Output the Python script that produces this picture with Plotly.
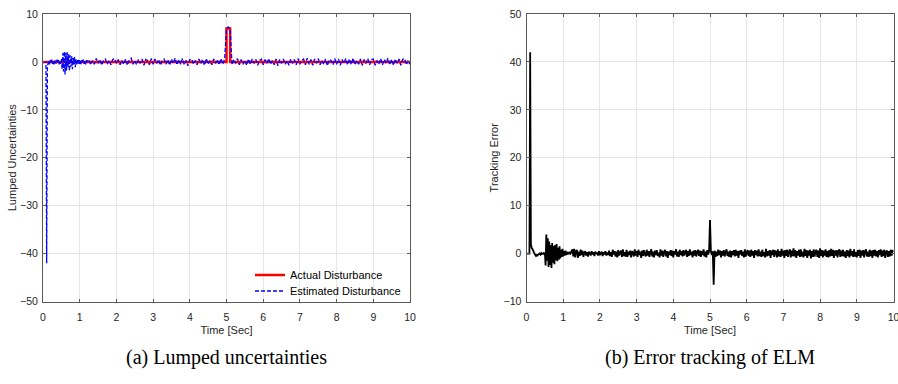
import numpy as np
import plotly.graph_objects as go

# ---------------- data ----------------
# time grids (sampling instants, seconds)
t_fine = np.round(np.arange(0, 1.2001, 0.02), 3)          # 0 .. 1.20
t_est = np.round(np.arange(1.25, 10.0001, 0.05), 3)       # 1.25 .. 10.00
t_err = np.round(np.arange(1.25, 10.0001, 0.025), 4)      # 1.25 .. 10.00

actual_time = [0, 5.0, 5.0, 5.1, 5.1, 10]
actual_dist = [0, 0, 7, 7, 0, 0]

est_fine = [0, 0, 0, 0, 0, -42, -0.8, -0.4, 0.3, -0.5,
            0.4, -0.3, 0.5, -0.4, 0.2, -0.5, 0.4, 0.0, -0.4, 0.5,
            -0.2, 0.4, -0.5, 0.2, -0.4, 0.6, -1.5, 1.8, -2.0, 2.2,
            -2.6, 1.9, -1.8, 2.0, -1.2, 1.6, -1.9, 1.4, -1.0, 1.2,
            -1.5, 0.8, -0.6, 1.0, -1.1, 0.6, -0.5, 0.4, -0.5, 0.6,
            -0.4, 0.2, -0.5, 0.4, -0.2, 0.5, -0.4, 0.2, -0.5, 0.4,
            0.0]
est_coarse = [0.5, -0.6, 0.3, -0.5, 0.7, -0.3, 0.5, -0.7, 0.3, 0.6,
              -0.5, 0.3, -0.6, 0.5, 0.7, -0.3, 0.5, -0.6, 0.3, -0.5,
              0.6, -0.7, 0.4, 0.8, -0.5, 0.3, -0.6, 0.5, -0.3, 0.6,
              -0.7, 0.5, 0.3, -0.6, 0.7, -0.5, 0.6, -0.3, 0.5, -0.7,
              0.3, 0.6, -0.5, 0.5, -0.7, 0.6, -0.3, 0.8, -0.6, 0.5,
              -0.5, 0.7, -0.6, 0.3, -0.8, 0.5, 0.6, -0.5, 0.3, -0.6,
              0.6, -0.3, 0.5, -0.7, 0.7, -0.5, 0.3, -0.6, 0.6, -0.3,
              0.5, -0.6, 0.7, -0.5, 0.6,
              7.0, 7.3, 6.9,
              -0.6, 0.5, -0.3, 0.7, -0.6, 0.5, -0.5, 0.3, -0.7, 0.6,
              -0.5, 0.6, -0.3, 0.5, -0.7, 0.3, 0.6, -0.6, 0.5, -0.3,
              0.7, -0.5, 0.3, -0.6, 0.6, -0.8, 0.5, -0.3, 0.6, -0.5,
              0.3, -0.7, 0.6, -0.3, 0.5, -0.6, 0.7, -0.5, 0.3, 0.6,
              -0.6, 0.8, -0.5, 0.5, -0.7, 0.6, -0.3, 0.7, -0.6, 0.3,
              -0.5, 0.6, -0.8, 0.5, 0.3, -0.6, 0.7, -0.5, 0.6, -0.7,
              0.5, -0.3, 0.7, -0.6, 0.6, -0.5, 0.8, -0.6, 0.3, -0.5,
              0.6, -0.7, 0.5, -0.3, 0.7, -0.6, 0.5, 0.6, -0.7, 0.3,
              -0.5, 0.7, -0.6, 0.5, -0.3, 0.8, -0.6, 0.5, -0.7, 0.6,
              -0.3, 0.6, -0.7, 0.5, 0.7, -0.6, 0.3, -0.5]

err_fine = [0, 0, 0, 0, 0, 42, 2.0, 1.2, 1.0, 0.6,
            0.3, 0.0, -0.3, -0.5, -0.3, -0.4, -0.2, -0.1, 0.0, -0.2,
            0.1, -0.1, 0.0, 0.1, -0.1, 0.2, -2.5, 4.0, -1.5, 3.2,
            -2.8, 2.5, -2.4, 1.8, -3.0, 2.2, -1.9, 1.6, -2.2, 1.8,
            -1.4, 2.0, -1.6, 1.2, -1.3, 1.5, -1.0, 0.8, -0.7, 1.0,
            -0.6, 0.5, -0.4, 0.6, -0.3, 0.4, -0.2, 0.3, -0.1, 0.2,
            0.0]
err_coarse = [0.9, -0.6, 1.0, -0.8, 0.5, 0.7, -0.9, 0.4, -0.5, 0.8,
              -0.3, 0.6, -0.7, 0.2, 0.5, -0.4, 0.3, -0.6, 0.4, 0.1,
              -0.4, 0.5, -0.2, 0.3, -0.5, 0.4, -0.1, 0.2, -0.4, 0.5,
              -0.3, 0.1, 0.4, -0.5, 0.3, -0.2, 0.5, -0.4, 0.2, -0.3,
              0.6, -0.5, 0.3, -0.7, 0.8, -0.2, 0.5, -0.6, 0.4, -0.8,
              0.7, -0.4, 0.2, 0.6, -0.7, 0.9, -0.5, 0.3, -0.6, 0.8,
              -0.7, 0.4, -0.3, 0.6, -0.8, 0.5, 0.2, -0.6, 0.9, -0.4,
              0.5, -0.7, 0.8, -0.3, 0.4, -0.9, 0.6, -0.5, 0.7, -0.2,
              -0.6, 0.8, -0.4, 0.5, -0.7, 0.3, 0.9, -0.6, 0.4, -0.8,
              0.6, -0.3, 0.7, -0.5, 0.2, -0.8, 0.9, -0.4, 0.6, -0.7,
              0.3, 0.8, -0.6, 0.5, -0.9, 0.4, -0.3, 0.7, -0.5, 0.6,
              -0.8, 0.5, -0.2, 0.9, -0.6, 0.4, -0.7, 0.8, -0.3, 0.5,
              -0.6, 0.7, -0.4, 0.3, 0.8, -0.7, 0.5, -0.5, 0.9, -0.3,
              0.4, -0.8, 0.6, -0.4, 0.7, -0.6, 0.3, 0.8, -0.5, 0.6,
              -0.7, 0.5, -0.3, 0.9, -0.6, 0.4, -0.8, 0.7, -0.2, 0.5,
              7.0, 0.4, -0.3, 0.5, -6.5,
              0.6, -0.7, 0.4, -0.5, 0.8, -0.3, 0.6, -0.8, 0.5, -0.4,
              0.7, -0.6, 0.3, 0.9, -0.5, 0.4, -0.7, 0.6, -0.8, 0.5,
              -0.3, 0.7, -0.6, 0.8, -0.4, 0.5, -0.9, 0.6, -0.2, 0.7,
              -0.5, 0.4, -0.8, 0.9, -0.6, 0.3, 0.7, -0.5, 0.6, -0.7,
              0.8, -0.4, 0.5, -0.9, 0.7, -0.3, 0.6, -0.6, 0.9, -0.5,
              0.4, -0.7, 0.8, -0.5, 0.3, -0.8, 1.0, -0.6, 0.5, -0.4,
              0.7, -0.9, 0.6, -0.3, 0.8, -0.7, 0.5, 0.4, -0.8, 0.9,
              -0.6, 0.5, -0.7, 1.0, -0.4, 0.6, -0.9, 0.7, -0.5, 0.8,
              -0.7, 0.4, 0.9, -0.8, 0.6, -0.5, 1.1, -0.6, 0.7, -0.9,
              0.5, -0.4, 0.8, -0.7, 0.9, -0.6, 0.4, -0.8, 1.0, -0.5,
              0.7, -0.9, 0.6, -0.4, 0.8, -1.0, 0.5, -0.7, 0.9, -0.6,
              0.4, 0.8, -0.7, 0.6, -0.9, 1.1, -0.5, 0.7, -0.8, 0.6,
              -0.4, 0.9, -0.7, 0.5, -0.8, 0.7, -0.6, 1.0, -0.5, 0.8,
              -0.9, 0.6, -0.4, 0.7, -0.8, 0.5, 0.9, -0.7, 0.6, -0.5,
              0.8, -0.6, 0.4, -0.9, 0.7, -0.5, 0.6, -0.8, 1.0, -0.4,
              0.5, -0.7, 0.9, -0.6, 0.3, -0.8, 0.7, -0.5, 0.8, -0.9,
              0.6, -0.4, 0.7, -0.8, 0.5, 0.9, -0.6, 0.4, -0.7, 0.8,
              -0.5, 0.6, -0.9, 0.7, -0.4, 0.8, -0.6, 0.5, -0.8, 0.7,
              -0.3, 0.9, -0.7, 0.6, -0.5, 0.8, -0.9, 0.4, 0.6, -0.7,
              0.5, -0.6, 0.8, -0.4, 0.7, 0.3]

x_ticks = list(range(0, 11))
y1_ticks = [10, 0, -10, -20, -30, -40, -50]
y2_ticks = [50, 40, 30, 20, 10, 0, -10]

est_time = list(t_fine) + list(t_est)
est_all = est_fine + est_coarse
err_time = list(t_fine) + list(t_err)
err_all = err_fine + err_coarse
assert len(est_time) == len(est_all), (len(est_time), len(est_all))
assert len(err_time) == len(err_all), (len(err_time), len(err_all))

# ---------------- figure ----------------
W, H = 898, 384
fig = go.Figure()

fig.add_trace(go.Scatter(x=actual_time, y=actual_dist, mode="lines",
                         name="Actual Disturbance", legend="legend",
                         line=dict(color="#ff0000", width=2.5, simplify=False),
                         xaxis="x", yaxis="y"))
fig.add_trace(go.Scatter(x=est_time, y=est_all, mode="lines",
                         name="Estimated Disturbance", legend="legend2",
                         line=dict(color="#0000ff", width=1.3, dash="4px,2px", simplify=False),
                         xaxis="x", yaxis="y"))
fig.add_trace(go.Scatter(x=err_time, y=err_all, mode="lines",
                         showlegend=False,
                         line=dict(color="#000000", width=1.8, simplify=False),
                         xaxis="x2", yaxis="y2"))

tickfont = dict(family="Liberation Sans, Arial", size=10.5, color="#262626")
axis_common = dict(
    showgrid=True, gridcolor="#e6e6e6", gridwidth=1,
    showline=True, linecolor="#5a5a5a", linewidth=1, mirror="ticks",
    ticks="inside", ticklen=3, tickcolor="#5a5a5a", tickwidth=1,
    zeroline=False, tickfont=tickfont, automargin=False,
    ticklabeloverflow="allow",
)

left0, left1 = 43 / W, 410 / W
right0, right1 = 526.5 / W, 893.5 / W
bot, top = 1 - 301.5 / H, 1 - 14 / H

title_font = dict(family="Liberation Sans, Arial", size=11, color="#262626")
legend_font = dict(family="Liberation Sans, Arial", size=11, color="#000000")

fig.update_layout(
    width=W, height=H,
    margin=dict(l=0, r=0, t=0, b=0),
    paper_bgcolor="white", plot_bgcolor="white",
    xaxis=dict(domain=[left0, left1], range=[0, 10], tickvals=x_ticks,
               anchor="y", title=dict(text="Time [Sec]", font=title_font, standoff=4),
               ticklabelstandoff=6, **axis_common),
    yaxis=dict(domain=[bot, top], range=[-50, 10], tickvals=y1_ticks,
               anchor="x", title=dict(text="Lumped Uncertainties", font=title_font, standoff=1),
               ticklabelstandoff=2, **axis_common),
    xaxis2=dict(domain=[right0, right1], range=[0, 10], tickvals=x_ticks,
                anchor="y2", title=dict(text="Time [Sec]", font=title_font, standoff=4),
                ticklabelstandoff=6, **axis_common),
    yaxis2=dict(domain=[bot, top], range=[-10, 50], tickvals=y2_ticks,
                anchor="x2", title=dict(text="Tracking Error", font=title_font, standoff=2),
                ticklabelstandoff=2, **axis_common),
    legend=dict(x=250 / W, y=1 - 275 / H, xanchor="left", yanchor="middle",
                bgcolor="rgba(255,255,255,0)", borderwidth=0,
                font=legend_font, itemwidth=30),
    legend2=dict(x=250 / W, y=1 - 291 / H, xanchor="left", yanchor="middle",
                 bgcolor="rgba(255,255,255,0)", borderwidth=0,
                 font=legend_font, itemwidth=30),
    showlegend=True,
    annotations=[
        dict(text="(a) Lumped uncertainties", x=(left0 + left1) / 2, y=1 - 357 / H,
             xref="paper", yref="paper", showarrow=False, xanchor="center", yanchor="middle",
             font=dict(family="Liberation Serif, Times New Roman", size=20, color="#000000")),
        dict(text="(b) Error tracking of ELM", x=(right0 + right1) / 2, y=1 - 357 / H,
             xref="paper", yref="paper", showarrow=False, xanchor="center", yanchor="middle",
             font=dict(family="Liberation Serif, Times New Roman", size=20, color="#000000")),
    ],
)

fig.write_html("out.html")
